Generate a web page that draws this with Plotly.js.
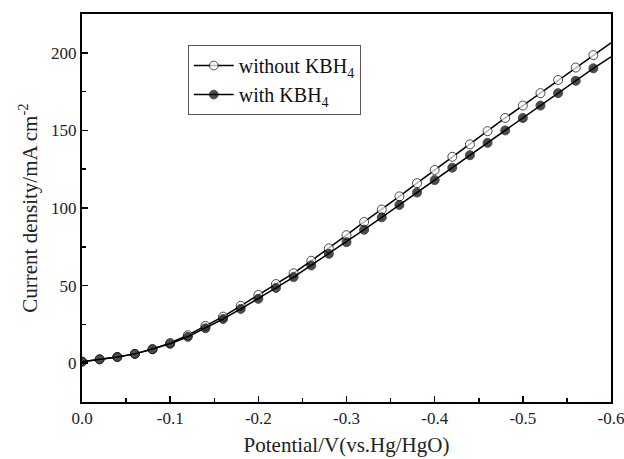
<!DOCTYPE html>
<html>
<head>
<meta charset="utf-8">
<script src="https://cdn.plot.ly/plotly-3.0.1.min.js"></script>
<style>html,body{margin:0;padding:0;background:#fff;}</style>
</head>
<body>
<div id="chart" style="width:624px;height:459px;"></div>
<script>
// Potential (V vs Hg/HgO)
const potential = [0, -0.02, -0.04, -0.06, -0.08, -0.10, -0.12, -0.14, -0.16, -0.18, -0.20, -0.22, -0.24, -0.26, -0.28, -0.30, -0.32, -0.34, -0.36, -0.38, -0.40, -0.42, -0.44, -0.46, -0.48, -0.50, -0.52, -0.54, -0.56, -0.58, -0.60];
// Current density (mA cm^-2)
const withoutKBH4 = [1, 2.5, 4, 6, 9, 13, 18, 24, 30, 37, 44, 51, 58, 66, 74, 82.5, 91, 99, 107.5, 116, 124.5, 133, 141, 149.5, 158, 166, 174, 182.5, 190.5, 198.5, 206.4];
const withKBH4 = [1, 2.5, 4, 6, 9, 12.5, 17, 22.5, 28.5, 35, 41.5, 48.5, 55.5, 63, 70.5, 78, 86, 94, 102, 110, 118, 126, 134, 142, 150, 158, 166, 174, 182, 190, 197.4];
const seriesNames = ['without KBH<sub>4</sub>', 'with KBH<sub>4</sub>'];
const xTickVals = [0, -0.1, -0.2, -0.3, -0.4, -0.5, -0.6];
const xTickText = ['0.0', '-0.1', '-0.2', '-0.3', '-0.4', '-0.5', '-0.6'];
const yTickVals = [0, 50, 100, 150, 200];

const markerSizes = potential.map((p, i) => i === potential.length - 1 ? 0 : 9);
const font = 'Liberation Serif, Times New Roman, serif';

const traces = [
  {
    x: potential, y: withoutKBH4, name: seriesNames[0], mode: 'lines+markers',
    line: {color: '#000', width: 1.5},
    marker: {symbol: 'circle', size: markerSizes, color: '#fff', line: {color: '#000', width: 1}}
  },
  {
    x: potential, y: withKBH4, name: seriesNames[1], mode: 'lines+markers',
    line: {color: '#000', width: 1.5},
    marker: {symbol: 'circle', size: markerSizes, color: '#000', line: {color: '#000', width: 1}}
  }
];

const layout = {
  width: 624, height: 459,
  margin: {l: 82, r: 13, t: 14, b: 57},
  paper_bgcolor: '#fff', plot_bgcolor: '#fff',
  font: {family: font, color: '#222', size: 17},
  showlegend: true,
  legend: {
    x: 0.2, y: 0.92, xanchor: 'left', yanchor: 'top',
    bgcolor: '#fff', bordercolor: '#555', borderwidth: 1,
    font: {family: font, size: 20, color: '#111'},
    itemwidth: 40, tracegroupgap: 4
  },
  xaxis: {
    range: [0, -0.6], autorange: false,
    tickvals: xTickVals, ticktext: xTickText,
    ticklabeloverflow: 'allow',
    ticks: 'inside', ticklen: 6, tickwidth: 1.5, tickcolor: '#000',
    minor: {dtick: 0.05, tick0: 0, ticks: 'inside', ticklen: 4, tickwidth: 1.5, tickcolor: '#000'},
    showline: true, linecolor: '#000', linewidth: 2, mirror: true,
    showgrid: false, zeroline: false,
    tickfont: {family: font, size: 17, color: '#222'},
    title: {text: 'Potential/V(vs.Hg/HgO)', font: {family: font, size: 21, color: '#222'}, standoff: 10}
  },
  yaxis: {
    range: [-25, 225], autorange: false,
    tickvals: yTickVals,
    ticks: 'inside', ticklen: 6, tickwidth: 1.5, tickcolor: '#000',
    minor: {dtick: 25, tick0: 0, ticks: 'inside', ticklen: 4, tickwidth: 1.5, tickcolor: '#000'},
    showline: true, linecolor: '#000', linewidth: 2, mirror: true,
    showgrid: false, zeroline: false,
    tickfont: {family: font, size: 17, color: '#222'},
    title: {text: 'Current density/mA cm<sup>-2</sup>', font: {family: font, size: 21, color: '#222'}, standoff: 8}
  }
};

Plotly.newPlot('chart', traces, layout, {displayModeBar: false, staticPlot: true});
</script>
</body>
</html>
